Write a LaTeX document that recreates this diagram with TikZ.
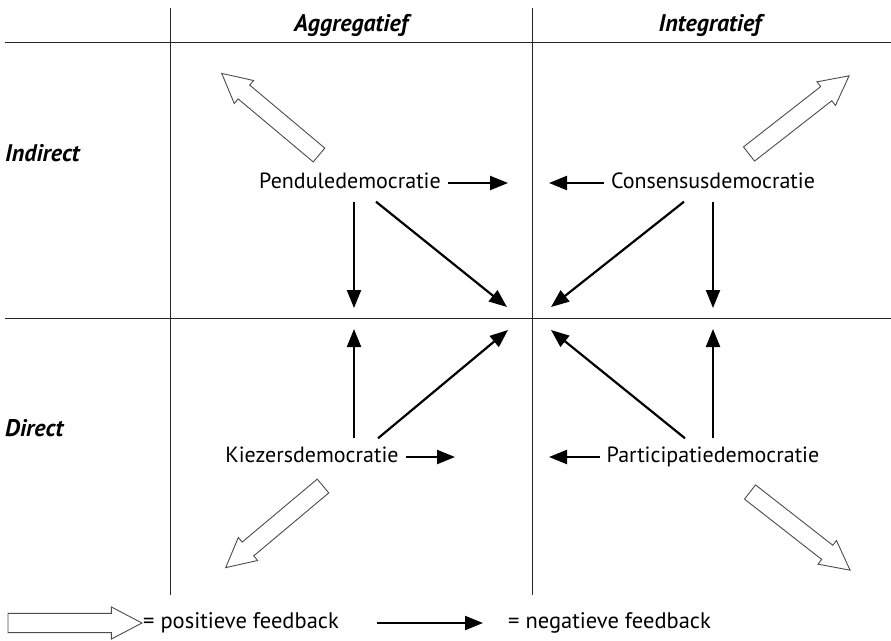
\documentclass[tikz,border=0pt]{standalone}
\usepackage{fontspec}
\setmainfont{PT Sans}
\usepackage{tikz}
\usetikzlibrary{positioning,calc}
\usetikzlibrary{arrows.meta}
\definecolor{rule}{rgb}{0.15,0.15,0.15}
\definecolor{outline}{rgb}{0.3,0.3,0.3}

\begin{document}
\begin{tikzpicture}[
  x = 1pt,
  y = -1pt,
  grid/.style = {
    draw = rule,
    line width = 1pt,
  },
  head/.style = {
    font = \fontsize{24}{27}\selectfont\bfseries\itshape,
    inner sep = 0pt,
  },
  model/.style = {
    font = \fontsize{22}{26}\selectfont,
    text height = 16pt,
    text depth = 5pt,
    inner xsep = 7pt,
    inner ysep = 8pt,
  },
  legend/.style = {
    font = \fontsize{22.5}{26}\selectfont,
    anchor = west,
    inner sep = 0pt,
  },
  neg/.style = {
    draw,
    line width = 2.2pt,
  },
  fbarrow/.pic = {
    \draw[outline, line width = 0.9pt, fill = white, line join = miter]
      (0,-9) -- (98,-9) -- (98,-15) -- (127,0) -- (98,15) -- (98,9) -- (0,9) -- cycle;
  },
  >={Triangle[length=18pt,width=14pt]},
]

  \useasboundingbox (0,0) rectangle (891,640);

  \draw[grid] (5,42) -- (891,42);
  \draw[grid] (5,318) -- (891,318);
  \draw[grid] (170,8) -- (170,595);
  \draw[grid] (532,8) -- (532,595);

  \node[head] (agg) at (351,25) {Aggregatief};
  \node[head] (int) at (710,25) {Integratief};
  \node[head, anchor=west] (ind) at (5,153) {Indirect};
  \node[head, anchor=west] (dir) at (5,428) {Direct};

  \node[model] (pendule) at (350,183) {Penduledemocratie};
  \node[model] (consensus) at (713,183) {Consensusdemocratie};
  \node[model] (kiezers) at (312,457) {Kiezersdemocratie};
  \node[model] (participatie) at (713,457) {Participatiedemocratie};

  \coordinate (pR) at (508,183);
  \coordinate (pD) at (354,308);
  \coordinate (pM) at (507,307);
  \coordinate (cL) at (549,183);
  \coordinate (cD) at (713,308);
  \coordinate (cM) at (551,307);
  \coordinate (kR) at (455,457);
  \coordinate (kU) at (354,329);
  \coordinate (kM) at (508,330);
  \coordinate (aL) at (549,457);
  \coordinate (aU) at (713,329);
  \coordinate (aM) at (551,330);

  \path[->] (pendule.east) edge[neg] (pR);
  \path[->] ([xshift=4pt]pendule.south) edge[neg] (pD);
  \path[->] ([xshift=26pt]pendule.south) edge[neg] (pM);
  \path[->] (consensus.west) edge[neg] (cL);
  \path[->] (consensus.south) edge[neg] (cD);
  \path[->] ([xshift=-29pt]consensus.south) edge[neg] (cM);
  \path[->] (kiezers.east) edge[neg] (kR);
  \path[->] ([xshift=42pt]kiezers.north) edge[neg] (kU);
  \path[->] ([xshift=66pt]kiezers.north) edge[neg] (kM);
  \path[->] (participatie.west) edge[neg] (aL);
  \path[->] (participatie.north) edge[neg] (aU);
  \path[->] ([xshift=-28pt]participatie.north) edge[neg] (aM);

  \pic[rotate=140] at (319,155) {fbarrow};
  \pic[rotate=38] at (749,154) {fbarrow};
  \pic[rotate=-140] at (323,486) {fbarrow};
  \pic[rotate=-38] at (750,492) {fbarrow};

  \pic[xscale=1.055, yscale=1.07] at (8,623) {fbarrow};
  \node[legend] (pos) at (143,623) {= positieve feedback};
  \coordinate (lgA) at (377,623);
  \coordinate (lgB) at (483,623);
  \path[->] (lgA) edge[neg] (lgB);
  \node[legend] (negl) at (508,623) {= negatieve feedback};

\end{tikzpicture}
\end{document}
